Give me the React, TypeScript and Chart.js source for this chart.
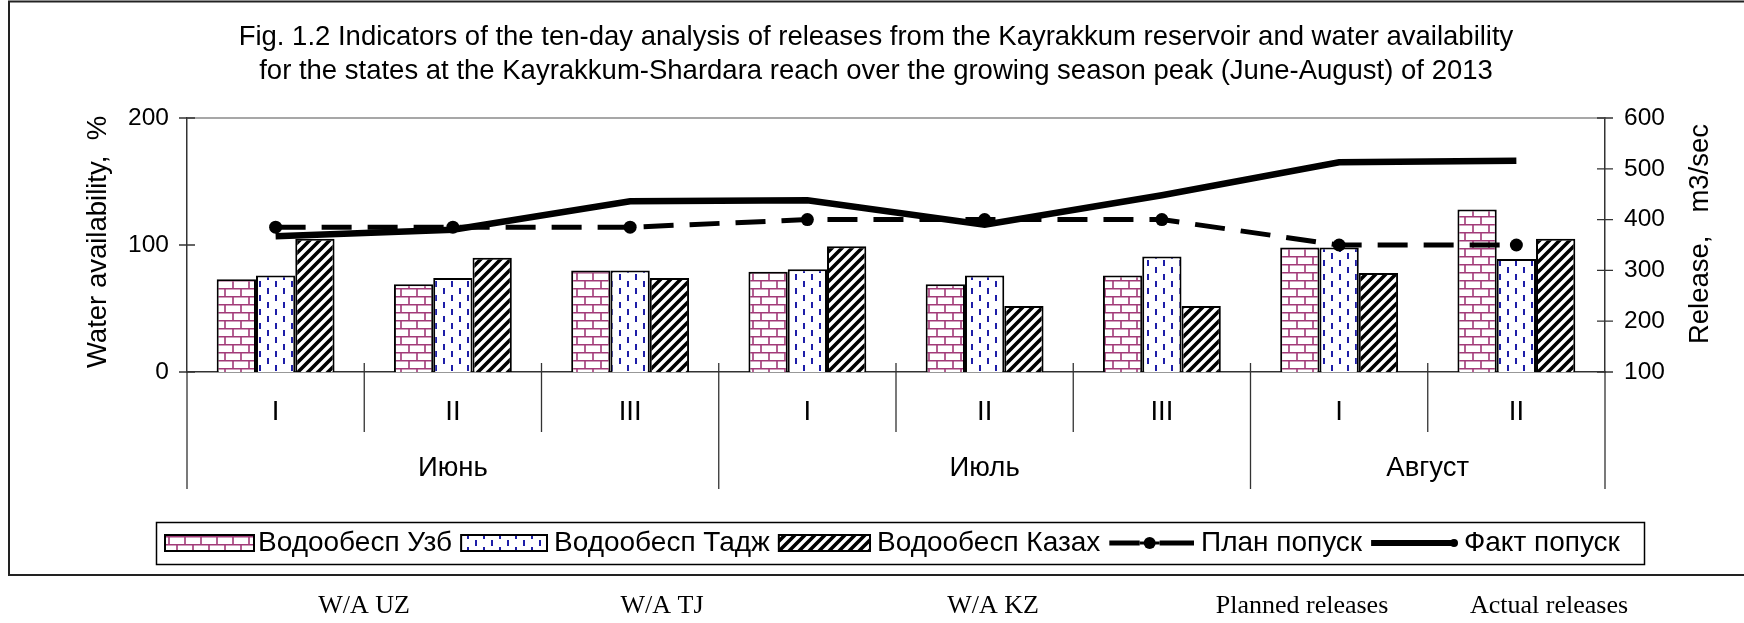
import React, { useEffect, useRef } from 'react';
import { Chart, registerables } from 'chart.js';

Chart.register(...registerables);

// ---------- data ----------
const categories = ['I', 'II', 'III', 'I', 'II', 'III', 'I', 'II'];
const months = ['Июнь', 'Июль', 'Август'];
const monthSpans = [3, 3, 2];
const waUzb = [73, 69, 80, 79, 69, 76, 98, 128];
const waTaj = [76, 74, 80, 81, 76, 91, 98, 89];
const waKaz = [105, 90, 74, 99, 52, 52, 78, 105];
const planRelease = [385, 385, 385, 400, 400, 400, 350, 350];
const factRelease = [367, 380, 436, 438, 390, 448, 513, 516];
const leftTicks = [0, 100, 200];
const rightTicks = [100, 200, 300, 400, 500, 600];
const seriesNames = ['Водообесп Узб', 'Водообесп Тадж', 'Водообесп Казах', 'План попуск', 'Факт попуск'];
const englishNames = ['W/A UZ', 'W/A TJ', 'W/A KZ', 'Planned releases', 'Actual releases'];
const titleLines = [
  'Fig. 1.2 Indicators of the ten-day analysis of releases from the Kayrakkum reservoir and water availability',
  'for the states at the Kayrakkum-Shardara reach over the growing season peak (June-August) of 2013',
];
const leftAxisTitle = 'Water availability,  %';
const rightAxisTitle = 'Release,   m3/sec';

// ---------- styles ----------
const SANS = '"Liberation Sans", Arial, sans-serif';
const SERIF = '"Liberation Serif", "Times New Roman", serif';

function brickPattern(): CanvasPattern | string {
  const c = document.createElement('canvas');
  c.width = 16; c.height = 16;
  const g = c.getContext('2d');
  if (!g) return '#fff';
  g.fillStyle = '#ffffff';
  g.fillRect(0, 0, 16, 16);
  g.strokeStyle = '#a23a78';
  g.lineWidth = 1.6;
  g.beginPath();
  g.moveTo(0, 0.8); g.lineTo(16, 0.8);
  g.moveTo(0, 8.8); g.lineTo(16, 8.8);
  g.moveTo(1, 0.8); g.lineTo(1, 8.8);
  g.moveTo(9, 8.8); g.lineTo(9, 16);
  g.stroke();
  return g.createPattern(c, 'repeat') || '#fff';
}

function dashPattern(): CanvasPattern | string {
  const c = document.createElement('canvas');
  c.width = 16; c.height = 14;
  const g = c.getContext('2d');
  if (!g) return '#fff';
  g.fillStyle = '#ffffff';
  g.fillRect(0, 0, 16, 14);
  g.fillStyle = '#1e1ea8';
  g.fillRect(3, 1, 2, 6);
  g.fillRect(11, 8, 2, 6);
  return g.createPattern(c, 'repeat') || '#fff';
}

function stripePattern(): CanvasPattern | string {
  const c = document.createElement('canvas');
  c.width = 10; c.height = 10;
  const g = c.getContext('2d');
  if (!g) return '#fff';
  g.fillStyle = '#ffffff';
  g.fillRect(0, 0, 10, 10);
  g.strokeStyle = '#000000';
  g.lineWidth = 3.6;
  g.beginPath();
  g.moveTo(-5, 15); g.lineTo(15, -5);
  g.moveTo(-10, 10); g.lineTo(10, -10);
  g.moveTo(0, 20); g.lineTo(20, 0);
  g.stroke();
  return g.createPattern(c, 'repeat') || '#fff';
}

const decorPlugin = {
  id: 'decor',
  afterDraw(chart: any) {
    const { ctx, chartArea: ca, scales } = chart;
    const xs = scales.x, ys = scales.y, y1s = scales.y1;
    const W = chart.width;
    ctx.save();

    // outer frame
    ctx.strokeStyle = '#222';
    ctx.lineWidth = 2;
    ctx.beginPath();
    ctx.moveTo(W, 1.5); ctx.lineTo(9, 1.5); ctx.lineTo(9, 575); ctx.lineTo(W, 575);
    ctx.stroke();

    // title
    ctx.fillStyle = '#000';
    ctx.font = `27.5px ${SANS}`;
    ctx.textAlign = 'center';
    ctx.textBaseline = 'alphabetic';
    ctx.fillText(titleLines[0], 876, 45);
    ctx.fillText(titleLines[1], 876, 79);

    // plot area top border
    ctx.strokeStyle = '#8a8a8a';
    ctx.lineWidth = 1.5;
    ctx.beginPath();
    ctx.moveTo(ca.left, ca.top); ctx.lineTo(ca.right, ca.top);
    ctx.stroke();

    // y tick marks (crossing)
    ctx.strokeStyle = '#333';
    ctx.lineWidth = 1.3;
    ctx.beginPath();
    leftTicks.forEach((v) => {
      const py = ys.getPixelForValue(v);
      ctx.moveTo(ca.left - 8, py); ctx.lineTo(ca.left + 8, py);
    });
    rightTicks.forEach((v) => {
      const py = y1s.getPixelForValue(v);
      ctx.moveTo(ca.right - 8, py); ctx.lineTo(ca.right + 8, py);
    });
    ctx.stroke();

    // x separators (multi-level)
    const n = categories.length;
    const cw = (ca.right - ca.left) / n;
    const bounds = new Set<number>([0]);
    let acc = 0;
    monthSpans.forEach((s) => { acc += s; bounds.add(acc); });
    ctx.beginPath();
    for (let k = 0; k <= n; k++) {
      const bx = ca.left + k * cw;
      if (bounds.has(k)) {
        ctx.moveTo(bx, k === 0 || k === n ? ca.bottom : ca.bottom - 9);
        ctx.lineTo(bx, ca.bottom + 117);
      } else {
        ctx.moveTo(bx, ca.bottom - 9);
        ctx.lineTo(bx, ca.bottom + 60);
      }
    }
    ctx.stroke();

    // category labels
    ctx.fillStyle = '#000';
    ctx.font = `27.5px ${SANS}`;
    ctx.textAlign = 'center';
    ctx.textBaseline = 'middle';
    categories.forEach((c, i) => {
      ctx.fillText(c, xs.getPixelForValue(i), ca.bottom + 40);
    });
    let start = 0;
    months.forEach((m, j) => {
      const cx = ca.left + (start + monthSpans[j] / 2) * cw;
      ctx.fillText(m, cx, ca.bottom + 96);
      start += monthSpans[j];
    });

    // axis titles
    ctx.save();
    ctx.translate(98, 242);
    ctx.rotate(-Math.PI / 2);
    ctx.fillText(leftAxisTitle, 0, 0);
    ctx.restore();
    ctx.save();
    ctx.translate(1700, 234);
    ctx.rotate(-Math.PI / 2);
    ctx.fillText(rightAxisTitle, 0, 0);
    ctx.restore();

    // legend
    const lgTop = 522, lgBottom = 564, lgLeft = 156, lgRight = 1644;
    ctx.strokeStyle = '#000';
    ctx.lineWidth = 1.5;
    ctx.strokeRect(lgLeft + 0.5, lgTop + 0.5, lgRight - lgLeft, lgBottom - lgTop);
    const cy = (lgTop + lgBottom) / 2;
    const txtX = [258, 554, 877, 1201, 1464];
    ctx.font = `28px ${SANS}`;
    ctx.textAlign = 'left';
    ctx.textBaseline = 'middle';
    const labels = chart.data.datasets.map((ds: any) => ds.label as string);
    const symX: number[] = [165];
    const symEnd: number[] = [254];
    for (let i = 1; i < labels.length; i++) {
      symX.push(txtX[i - 1] + ctx.measureText(labels[i - 1]).width + 9);
      symEnd.push(txtX[i] - 7);
    }
    chart.data.datasets.forEach((ds: any, i: number) => {
      const lx = symX[i];
      const sw = symEnd[i] - symX[i];
      if (i < 3) {
        ctx.fillStyle = ds.backgroundColor;
        ctx.fillRect(lx, cy - 8, sw, 16);
        ctx.strokeStyle = '#000';
        ctx.lineWidth = 2;
        ctx.strokeRect(lx, cy - 8, sw, 16);
      } else if (i === 3) {
        const mid = lx + sw / 2;
        ctx.strokeStyle = '#000';
        ctx.lineWidth = 5;
        ctx.beginPath();
        ctx.moveTo(lx, cy); ctx.lineTo(mid - 12, cy);
        ctx.moveTo(mid + 8, cy); ctx.lineTo(lx + sw, cy);
        ctx.stroke();
        ctx.beginPath();
        ctx.moveTo(mid - 12, cy); ctx.lineTo(mid + 8, cy);
        ctx.lineWidth = 3; ctx.stroke();
        ctx.fillStyle = '#000';
        ctx.beginPath();
        ctx.arc(mid - 2, cy, 6, 0, Math.PI * 2);
        ctx.fill();
      } else {
        ctx.strokeStyle = '#000';
        ctx.lineWidth = 6;
        ctx.beginPath();
        ctx.moveTo(lx, cy); ctx.lineTo(lx + sw - 2, cy);
        ctx.stroke();
        ctx.fillStyle = '#000';
        ctx.beginPath();
        ctx.arc(lx + sw - 3, cy, 4, 0, Math.PI * 2);
        ctx.fill();
      }
      ctx.fillStyle = '#000';
      ctx.fillText(ds.label, txtX[i], cy);
    });

    // english captions under the frame
    const capX = [364, 662, 993, 1302, 1549];
    ctx.font = `26px ${SERIF}`;
    ctx.textAlign = 'center';
    ctx.textBaseline = 'alphabetic';
    englishNames.forEach((t, i) => ctx.fillText(t, capX[i], 613));

    ctx.restore();
  },
};

export default function App() {
  const ref = useRef<HTMLCanvasElement | null>(null);

  useEffect(() => {
    const canvas = ref.current;
    if (!canvas) return;
    const bg = {
      id: 'bg',
      beforeDraw(chart: any) {
        const c = chart.ctx;
        c.save();
        c.fillStyle = '#fff';
        c.fillRect(0, 0, chart.width, chart.height);
        c.restore();
      },
    };
    const barCommon = {
      type: 'bar' as const,
      borderColor: '#000',
      borderWidth: 2,
      borderSkipped: 'start' as const,
      yAxisID: 'y',
      categoryPercentage: 0.665,
      barPercentage: 1,
      order: 2,
    };
    const chart = new Chart(canvas, {
      type: 'bar',
      data: {
        labels: categories,
        datasets: [
          { ...barCommon, label: seriesNames[0], data: waUzb, backgroundColor: brickPattern() as any },
          { ...barCommon, label: seriesNames[1], data: waTaj, backgroundColor: dashPattern() as any },
          { ...barCommon, label: seriesNames[2], data: waKaz, backgroundColor: stripePattern() as any },
          {
            type: 'line' as const,
            label: seriesNames[3],
            data: planRelease,
            yAxisID: 'y1',
            borderColor: '#000',
            borderWidth: 5,
            borderDash: [30, 16],
            pointRadius: 6.5,
            pointBackgroundColor: '#000',
            pointBorderWidth: 0,
            tension: 0,
            fill: false,
            order: 1,
          } as any,
          {
            type: 'line' as const,
            label: seriesNames[4],
            data: factRelease,
            yAxisID: 'y1',
            borderColor: '#000',
            borderWidth: 6.5,
            pointRadius: 0,
            tension: 0,
            fill: false,
            order: 0,
          } as any,
        ],
      },
      options: {
        responsive: false,
        animation: false,
        devicePixelRatio: 1,
        layout: { padding: { top: 118, left: 0, right: 0, bottom: 0 } },
        plugins: { legend: { display: false }, title: { display: false }, tooltip: { enabled: false } },
        scales: {
          x: {
            type: 'category',
            offset: true,
            grid: { display: false },
            ticks: { display: false },
            border: { display: true, color: '#333', width: 1.5 },
            afterFit: (s: any) => { s.height = 623 - 372; },
          },
          y: {
            position: 'left',
            min: 0,
            max: 200,
            afterBuildTicks: (s: any) => { s.ticks = leftTicks.map((v) => ({ value: v })); },
            grid: { display: false },
            border: { display: true, color: '#333', width: 1.5 },
            ticks: { color: '#000', padding: 10, font: { family: SANS, size: 24.5 } },
            afterFit: (s: any) => { s.width = 187; },
          },
          y1: {
            position: 'right',
            min: 100,
            max: 600,
            afterBuildTicks: (s: any) => { s.ticks = rightTicks.map((v) => ({ value: v })); },
            grid: { display: false },
            border: { display: true, color: '#333', width: 1.5 },
            ticks: { color: '#000', padding: 11, font: { family: SANS, size: 24.5 } },
            afterFit: (s: any) => { s.width = 1744 - 1605; },
          },
        },
      },
      plugins: [bg, decorPlugin],
    });
    return () => chart.destroy();
  }, []);

  return (
    <canvas
      ref={ref}
      width={1744}
      height={623}
      style={{ position: 'absolute', left: 0, top: 0, width: 1744, height: 623, display: 'block' }}
    />
  );
}
